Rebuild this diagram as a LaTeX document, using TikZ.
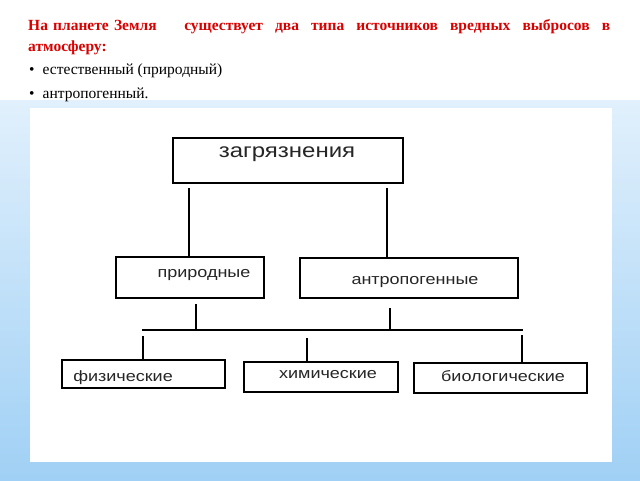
\documentclass[tikz,border=0pt]{standalone}
\usepackage{fontspec}
\setmainfont{Liberation Serif}
\newfontfamily\diag[FakeStretch=1.2]{Liberation Sans}
\definecolor{bgtop}{RGB}{225,240,252}
\definecolor{bgbot}{RGB}{160,208,245}
\begin{document}
\begin{tikzpicture}[x=1pt,y=-1pt,
  box/.style={draw,line width=1.6pt,inner sep=0pt},
  lbl/.style={font=\diag\fontsize{15}{16}\selectfont,text=black!85},
  ln/.style={line width=1.4pt}]
\useasboundingbox (0,0) rectangle (640,480);
\fill[white] (0,0) rectangle (640,480);
\shade[top color=bgtop,bottom color=bgbot] (0,100) rectangle (640,480);
\fill[white] (30,108) rectangle (612,462);
% top text
\node[anchor=west,text=red!85!black,font=\bfseries\fontsize{15.5}{17}\selectfont,text width=582pt,inner sep=0pt] (t1) at (28,27) {\parfillskip=0pt На планете Земля\hfill\quad существует\hfill два\hfill типа\hfill источников\hfill вредных\hfill выбросов\hfill в};
\node[anchor=west,text=red!85!black,font=\bfseries\fontsize{15.5}{17}\selectfont,inner sep=0pt] (t2) at (28,48) {атмосферу:};
\node[anchor=west,font=\fontsize{15.5}{17}\selectfont,inner sep=0pt] (b1) at (29,71) {•\hspace{8pt}естественный (природный)};
\node[anchor=west,font=\fontsize{15.5}{17}\selectfont,inner sep=0pt] (b2) at (29,95) {•\hspace{8pt}антропогенный.};
% boxes
\node[box,minimum width=230pt,minimum height=45pt] (z) at (288,160.5) {};
\node[lbl,font=\diag\fontsize{20}{22}\selectfont] (zt) at (287,154) {загрязнения};
\node[box,minimum width=148pt,minimum height=41pt] (p) at (190,277.5) {};
\node[lbl] (pt) at (204,275) {природные};
\node[box,minimum width=218pt,minimum height=40pt] (a) at (409,278) {};
\node[lbl] (at) at (415,282) {антропогенные};
\node[box,minimum width=163pt,minimum height=28pt] (f) at (143.5,374) {};
\node[lbl] (ft) at (123,378) {физические};
\node[box,minimum width=154pt,minimum height=30pt] (h) at (321,377) {};
\node[lbl] (ht) at (328,375) {химические};
\node[box,minimum width=173pt,minimum height=30pt] (bi) at (500.5,378) {};
\node[lbl] (bt) at (503,376) {биологические};
% connectors
\coordinate (c1) at (189,188); \coordinate (c2) at (387,188);
\draw[ln] (c1) -- (c1 |- p.north);
\draw[ln] (c2) -- (c2 |- a.north);
\coordinate (hl) at (142,330); \coordinate (hr) at (523,330);
\draw[ln] (hl) -- (hr);
\coordinate (d1) at (196,304); \coordinate (d2) at (390,308);
\draw[ln] (d1) -- (d1 |- hl);
\draw[ln] (d2) -- (d2 |- hl);
\coordinate (e1) at (143,336); \coordinate (e2) at (307,338); \coordinate (e3) at (522,335);
\draw[ln] (e1) -- (e1 |- f.north);
\draw[ln] (e2) -- (e2 |- h.north);
\draw[ln] (e3) -- (e3 |- bi.north);
\end{tikzpicture}
\end{document}
